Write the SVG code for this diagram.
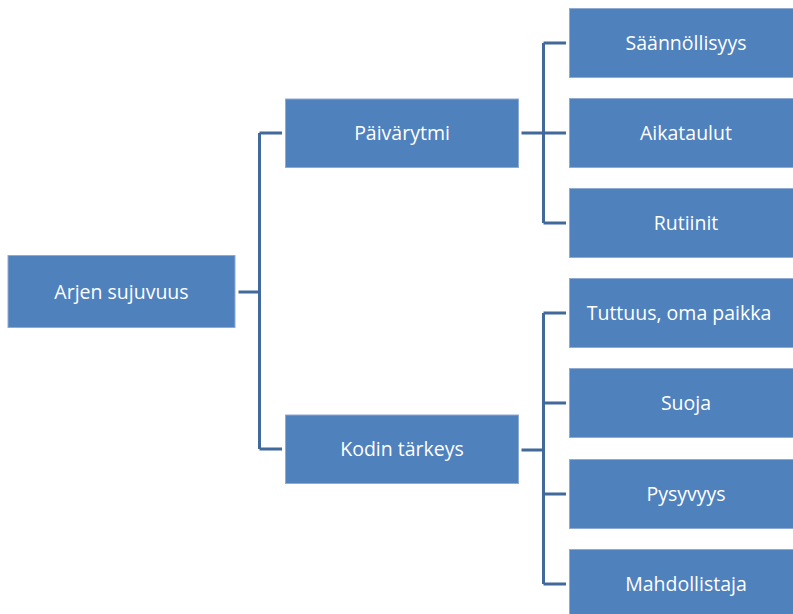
<svg xmlns="http://www.w3.org/2000/svg" width="793" height="614" viewBox="0 0 793 614">
  <style>
    .box { fill: #4F81BD; stroke: #8FAAD3; stroke-width: 1; }
    .lbl { fill: #FFFFFF; font-family: "Open Sans", "Liberation Sans", Arial, sans-serif; font-size: 19.5px; text-anchor: middle; }
    .conn { fill: none; stroke: #41699C; stroke-width: 3; }
  </style>
  <rect width="793" height="614" fill="#FFFFFF"/>

  <!-- connectors -->
  <g id="connectors">
    <path class="conn" d="M238.5 292 H259.5 M259.5 133 V449 M259.5 133 H282 M259.5 449 H282"/>
    <path class="conn" d="M521.5 133 H543.5 M543.5 43 V223 M543.5 43 H566 M543.5 133 H566 M543.5 223 H566"/>
    <path class="conn" d="M521.5 450 H543.5 M543.5 313 V584 M543.5 313 H566 M543.5 403 H566 M543.5 494 H566 M543.5 584 H566"/>
  </g>

  <g id="arjen-sujuvuus">
    <rect class="box" x="8" y="255.5" width="227" height="72"/>
    <text class="lbl" x="121.5" y="299">Arjen sujuvuus</text>
  </g>
  <g id="paivarytmi">
    <rect class="box" x="285.5" y="99" width="233" height="68.5"/>
    <text class="lbl" x="402" y="140">Päivärytmi</text>
  </g>
  <g id="kodin-tarkeys">
    <rect class="box" x="285.5" y="415" width="233" height="68.5"/>
    <text class="lbl" x="402" y="456">Kodin tärkeys</text>
  </g>

  <g id="saannollisyys">
    <rect class="box" x="569.5" y="8.5" width="230" height="69"/>
    <text class="lbl" x="686" y="50">Säännöllisyys</text>
  </g>
  <g id="aikataulut">
    <rect class="box" x="569.5" y="98.5" width="230" height="69"/>
    <text class="lbl" x="686" y="140">Aikataulut</text>
  </g>
  <g id="rutiinit">
    <rect class="box" x="569.5" y="188.5" width="230" height="69"/>
    <text class="lbl" x="686" y="230">Rutiinit</text>
  </g>
  <g id="tuttuus">
    <rect class="box" x="569.5" y="278.5" width="230" height="69"/>
    <text class="lbl" x="679" y="320">Tuttuus, oma paikka</text>
  </g>
  <g id="suoja">
    <rect class="box" x="569.5" y="368.5" width="230" height="69"/>
    <text class="lbl" x="686" y="410">Suoja</text>
  </g>
  <g id="pysyvyys">
    <rect class="box" x="569.5" y="459.5" width="230" height="69"/>
    <text class="lbl" x="686" y="501">Pysyvyys</text>
  </g>
  <g id="mahdollistaja">
    <rect class="box" x="569.5" y="549.5" width="230" height="69"/>
    <text class="lbl" x="686" y="591">Mahdollistaja</text>
  </g>
</svg>
